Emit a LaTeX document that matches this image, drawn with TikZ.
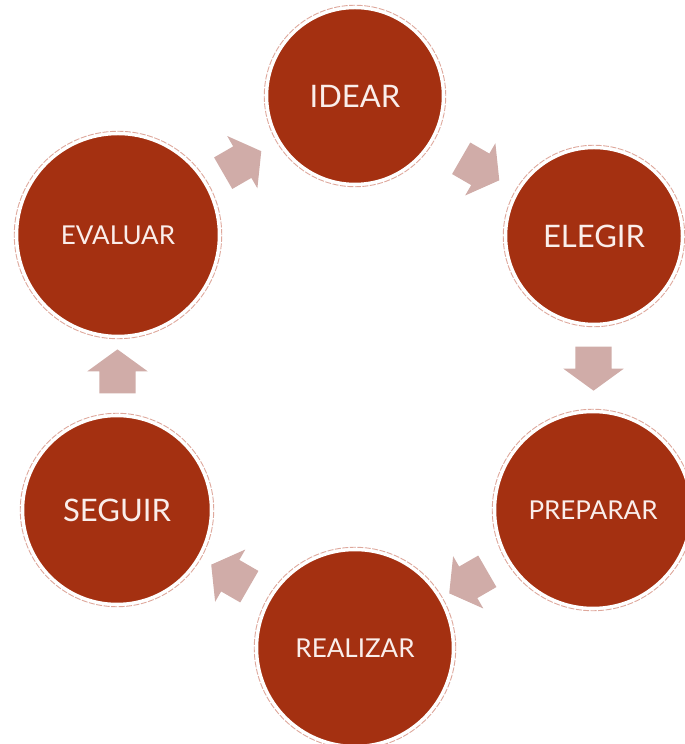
\documentclass[tikz,border=0pt]{standalone}
\usepackage{fontspec}
\setmainfont{Lato}
\usetikzlibrary{shapes.arrows,calc}

\definecolor{rust}{RGB}{164,48,17}
\definecolor{ringpink}{RGB}{222,168,156}
\definecolor{arrowpink}{RGB}{208,172,168}
\definecolor{labelwhite}{RGB}{250,238,235}

\begin{document}
\begin{tikzpicture}[
    x=1pt, y=1pt,
    stage/.style={circle, fill=rust, draw=white, line width=2.5pt, text=labelwhite,
                  inner sep=0pt, minimum size=#1},
    bigtext/.style={font=\fontsize{31}{34}\selectfont},
    smalltext/.style={font=\fontsize{26}{30}\selectfont},
    ring/.style={draw=ringpink, dash pattern=on 6pt off 1.5pt, line width=0.9pt},
    flowarrow/.style={single arrow, fill=arrowpink, draw=none,
                      inner xsep=0pt, inner ysep=18pt, minimum height=44pt,
                      single arrow head extend=12pt, single arrow tip angle=108},
  ]
    \useasboundingbox (0,0) rectangle (685,744);

    % --- the six stages of the cycle --------------------------------------
    \node[stage=176, bigtext]   (idear)    at (355,648) {IDEAR};
    \node[stage=176, bigtext]   (elegir)   at (594,508) {ELEGIR};
    \node[stage=196, smalltext] (preparar) at (593,234) {PREPARAR};
    \node[stage=196, smalltext] (realizar) at (355,96)  {REALIZAR};
    \node[stage=188, bigtext]   (seguir)   at (117,234) {SEGUIR};
    \node[stage=202, smalltext] (evaluar)  at (118,509) {EVALUAR};

    % --- dashed outer rings -----------------------------------------------
    \foreach \s in {idear,elegir,preparar,realizar,seguir,evaluar}
      \draw[ring] let \p1=($(\s.east)-(\s.center)$) in
        (\s.center) circle[radius=\x1+1.5pt];

    % --- block arrows between stages --------------------------------------
    \node[flowarrow, rotate=-30]  (ie) at ($(idear)!0.5!(elegir)$) {};
    \node[flowarrow, rotate=-90]  (ep) at ($(elegir)!0.46!(preparar)$) {};
    \node[flowarrow, rotate=-150] (pr) at ($(preparar)!0.5!(realizar)$) {};
    \node[flowarrow, rotate=150]  (rs) at ($(realizar)!0.5!(seguir)$) {};
    \node[flowarrow, rotate=90]   (se) at ($(seguir)!0.48!(evaluar)$) {};
    \node[flowarrow, rotate=30]   (ei) at ($(evaluar)!0.5!(idear)$) {};
\end{tikzpicture}
\end{document}
